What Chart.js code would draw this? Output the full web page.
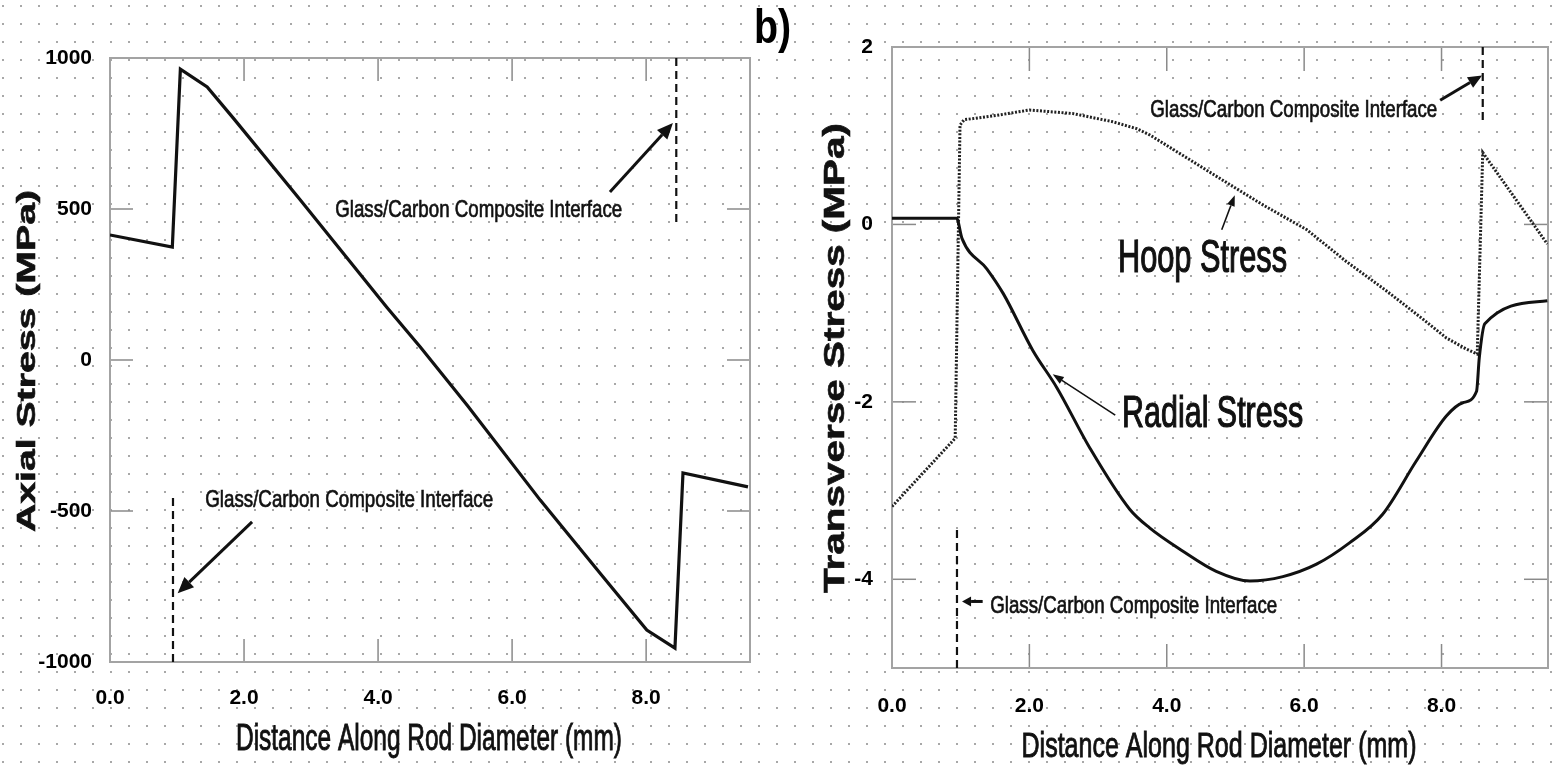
<!DOCTYPE html>
<html><head><meta charset="utf-8">
<script src="https://cdn.jsdelivr.net/npm/chart.js@4.4.0/dist/chart.umd.min.js"></script>
<style>
html,body{margin:0;padding:0;width:1552px;height:771px;overflow:hidden;background-color:#fff;}
body{background-image:radial-gradient(circle, #a8a8a8 1px, rgba(255,255,255,0) 1.5px);background-size:18px 18px;background-position:-6px -3px;}
#c1{position:absolute;left:0;top:0;}
#c2{position:absolute;left:776px;top:0;}
#lab{position:absolute;left:754px;top:3px;font:bold 48px "Liberation Sans",Arial,sans-serif;line-height:48px;transform:scaleX(0.82);transform-origin:left top;color:#000;}
</style></head>
<body>
<canvas id="c1" width="776" height="771"></canvas>
<canvas id="c2" width="776" height="771"></canvas>
<div id="lab">b)</div>
<script>
// ---- data ----
const axialX = [0, 0.93, 1.05, 1.45, 1.84, 2.84, 4.13, 4.63, 5.33, 6.42, 7.31, 8.01, 8.43, 8.55, 9.52];
const axialY = [414, 374, 963, 904, 801, 530, 175, 43, -150, -464, -705, -894, -954, -374, -420];

const radialX = [0, 0.94, 1.02, 1.38, 1.62, 2.05, 2.40, 2.88, 3.46, 3.75, 4.23, 4.72, 5.21, 5.69, 6.18, 6.66, 7.14, 7.63, 8.07, 8.31, 8.51, 8.55, 8.63, 9.54];
const radialY = [0.07, 0.07, -0.16, -0.50, -0.78, -1.42, -1.84, -2.52, -3.21, -3.42, -3.68, -3.91, -4.02, -3.97, -3.83, -3.59, -3.27, -2.67, -2.16, -2.01, -1.88, -1.50, -1.12, -0.86];

const hoopX = [0, 0.92, 0.99, 1.05, 1.53, 2.0, 2.63, 3.2, 3.56, 3.75, 4.23, 4.77, 5.4, 6.04, 6.6, 7.2, 7.7, 8.07, 8.35, 8.52, 8.6, 9.54];
const hoopY = [-3.18, -2.41, 1.12, 1.18, 1.23, 1.29, 1.25, 1.16, 1.08, 1.01, 0.78, 0.52, 0.22, -0.06, -0.41, -0.75, -1.05, -1.28, -1.40, -1.46, 0.81, -0.22];

const leftXTicks = [0, 2, 4, 6, 8];
const leftYTicks = [-1000, -500, 0, 500, 1000];
const rightXTicks = [0, 2, 4, 6, 8];
const rightYTicks = [-4, -2, 0, 2];

const interfaceLabel = 'Glass/Carbon Composite Interface';

// ---- helpers ----
const FONT = '"Liberation Sans", Arial, sans-serif';
const TICKFONT = '"Liberation Sans Narrow", "Liberation Sans", Arial, sans-serif';
const pts = (xs, ys) => xs.map((x, i) => ({x: x, y: ys[i]}));

function fitText(ctx, text, cx, cy, size, weight, width, rot, stroke) {
  ctx.save();
  ctx.font = weight + ' ' + size + 'px ' + FONT;
  const w = ctx.measureText(text).width;
  ctx.translate(cx, cy);
  if (rot) ctx.rotate(rot);
  ctx.scale(width / w, 1);
  ctx.textAlign = 'center';
  ctx.textBaseline = 'middle';
  ctx.fillStyle = '#111';
  ctx.fillText(text, 0, 0);
  if (stroke) { ctx.strokeStyle = '#111'; ctx.lineWidth = stroke; ctx.strokeText(text, 0, 0); }
  ctx.restore();
}
function arrow(ctx, x1, y1, x2, y2, lw, L, W) {
  const ang = Math.atan2(y2 - y1, x2 - x1);
  const bx = x2 - L * Math.cos(ang), by = y2 - L * Math.sin(ang);
  ctx.save();
  ctx.strokeStyle = '#111'; ctx.fillStyle = '#111'; ctx.lineWidth = lw;
  ctx.beginPath(); ctx.moveTo(x1, y1); ctx.lineTo(bx, by); ctx.stroke();
  ctx.beginPath(); ctx.moveTo(x2, y2);
  ctx.lineTo(bx + W * Math.sin(ang), by - W * Math.cos(ang));
  ctx.lineTo(bx - W * Math.sin(ang), by + W * Math.cos(ang));
  ctx.closePath(); ctx.fill();
  ctx.restore();
}

function makeDeco(cfg) {
  return {
    id: 'deco',
    beforeDatasetsDraw(chart) {
      const ctx = chart.ctx, a = chart.chartArea, xs = chart.scales.x, ys = chart.scales.y;
      ctx.save();
      ctx.strokeStyle = '#8a8a8a'; ctx.lineWidth = 1.5;
      const ln = (x1, y1, x2, y2) => { ctx.beginPath(); ctx.moveTo(x1, y1); ctx.lineTo(x2, y2); ctx.stroke(); };
      cfg.xMarks.forEach(v => { const p = xs.getPixelForValue(v); ln(p, a.top, p, a.top + cfg.len); ln(p, a.bottom, p, a.bottom - cfg.len); });
      cfg.yMarks.forEach(v => { const p = ys.getPixelForValue(v); ln(a.left, p, a.left + cfg.len, p); ln(a.right, p, a.right - cfg.len, p); });
      ctx.strokeStyle = '#a3a3a3'; ctx.lineWidth = 2;
      ctx.strokeRect(a.left, a.top, a.right - a.left, a.bottom - a.top);
      ctx.restore();
    },
    afterDraw(chart) {
      const ctx = chart.ctx, xs = chart.scales.x, ys = chart.scales.y;
      const X = v => xs.getPixelForValue(v), Y = v => ys.getPixelForValue(v);
      cfg.titles.forEach(t => fitText(ctx, t.text, t.cx, t.cy, t.size, t.weight, t.w, t.rot, t.stroke));
      cfg.notes.forEach(n => fitText(ctx, n.text, X(n.x) + n.w / 2, Y(n.y), n.size, 'normal', n.w, 0, n.stroke));
      cfg.arrows.forEach(r => arrow(ctx, X(r.x1), Y(r.y1), X(r.x2), Y(r.y2), r.lw, r.L, r.W));
    }
  };
}

function makeChart(id, cfg, datasets) {
  return new Chart(document.getElementById(id), {
    type: 'line',
    data: { datasets: datasets },
    plugins: [makeDeco(cfg)],
    options: {
      responsive: false, animation: false,
      layout: { padding: { top: cfg.top, right: cfg.right, left: 0, bottom: 0 } },
      plugins: { legend: { display: false }, tooltip: { enabled: false } },
      elements: { point: { radius: 0 }, line: { tension: 0 } },
      scales: {
        x: {
          type: 'linear', min: 0, max: 9.55,
          grid: { display: false, drawTicks: false }, border: { display: false },
          ticks: { padding: cfg.xPad, color: '#000', font: { family: TICKFONT, size: 21, weight: 'bold' }, maxRotation: 0, autoSkip: false,
                   callback: v => Number(v).toFixed(1) },
          afterBuildTicks: s => { s.ticks = cfg.xTicks.map(v => ({ value: v })); },
          afterFit: s => { s.height = cfg.xH; }
        },
        y: {
          type: 'linear', min: cfg.yMin, max: cfg.yMax,
          grid: { display: false, drawTicks: false }, border: { display: false },
          ticks: { padding: cfg.yPad, color: '#000', font: { family: TICKFONT, size: 21, weight: 'bold' }, autoSkip: false,
                   callback: v => String(v) },
          afterBuildTicks: s => { s.ticks = cfg.yTicks.map(v => ({ value: v })); },
          afterFit: s => { s.width = cfg.yW; }
        }
      }
    }
  });
}

const solid = (data, w) => ({ data: data, borderColor: '#111', borderWidth: w, fill: false, pointRadius: 0 });
const dashed = (data) => ({ data: data, borderColor: '#111', borderWidth: 2.2, borderDash: [8, 5], fill: false, pointRadius: 0 });

// ---- left chart: axial stress ----
makeChart('c1', {
  top: 58, right: 26, xH: 109, yW: 110, xPad: 24, yPad: 18,
  yMin: -1000, yMax: 1000, xTicks: leftXTicks, yTicks: leftYTicks,
  len: 23, xMarks: [2, 4, 6, 8], yMarks: [500, 0, -500],
  titles: [
    { text: 'Axial Stress (MPa)', cx: 28, cy: 361, size: 26, weight: 'bold', w: 342, rot: -Math.PI / 2, stroke: 0.6 },
    { text: 'Distance Along Rod Diameter (mm)', cx: 429, cy: 740, size: 36, weight: 'normal', w: 386, rot: 0, stroke: 0.9 }
  ],
  notes: [
    { text: interfaceLabel, x: 1.42, y: -464, w: 288, size: 24, stroke: 0.7 },
    { text: interfaceLabel, x: 3.36, y: 497, w: 287, size: 24, stroke: 0.7 }
  ],
  arrows: [
    { x1: 2.12, y1: -536, x2: 1.01, y2: -772, lw: 3, L: 16, W: 7 },
    { x1: 7.46, y1: 556, x2: 8.40, y2: 785, lw: 3, L: 16, W: 7 }
  ]
}, [
  solid(pts(axialX, axialY), 3.2),
  dashed([{ x: 0.94, y: -1000 }, { x: 0.94, y: -447 }]),
  dashed([{ x: 8.45, y: 1000 }, { x: 8.45, y: 457 }])
]);

// ---- right chart: transverse stress ----
makeChart('c2', {
  top: 47, right: 4, xH: 103, yW: 116, xPad: 26, yPad: 19,
  yMin: -5, yMax: 2, xTicks: rightXTicks, yTicks: rightYTicks,
  len: 24, xMarks: [2, 4, 6, 8], yMarks: [0, -2, -4],
  titles: [
    { text: 'Transverse Stress (MPa)', cx: 60, cy: 358, size: 30, weight: 'bold', w: 470, rot: -Math.PI / 2, stroke: 0.6 },
    { text: 'Distance Along Rod Diameter (mm)', cx: 443, cy: 747, size: 35, weight: 'normal', w: 395, rot: 0, stroke: 0.9 }
  ],
  notes: [
    { text: interfaceLabel, x: 3.76, y: 1.29, w: 287, size: 24, stroke: 0.7 },
    { text: interfaceLabel, x: 1.43, y: -4.30, w: 287, size: 24, stroke: 0.7 },
    { text: 'Hoop Stress', x: 3.29, y: -0.39, w: 169, size: 46, stroke: 1.2 },
    { text: 'Radial Stress', x: 3.35, y: -2.15, w: 181, size: 44, stroke: 1.2 }
  ],
  arrows: [
    { x1: 7.98, y1: 1.40, x2: 8.59, y2: 1.68, lw: 3, L: 14, W: 6 },
    { x1: 1.32, y1: -4.25, x2: 1.02, y2: -4.25, lw: 3, L: 9, W: 5 },
    { x1: 4.80, y1: -0.06, x2: 4.99, y2: 0.33, lw: 1.6, L: 11, W: 4 },
    { x1: 3.25, y1: -2.15, x2: 2.34, y2: -1.69, lw: 1.6, L: 11, W: 4 }
  ]
}, [
  Object.assign(solid(pts(radialX, radialY), 3), { cubicInterpolationMode: 'monotone' }),
  Object.assign(solid(pts(hoopX, hoopY), 3), { borderDash: [2, 1.6], borderColor: '#222' }),
  dashed([{ x: 0.946, y: -5 }, { x: 0.946, y: -3.41 }]),
  dashed([{ x: 8.6, y: 2 }, { x: 8.6, y: 1.14 }])
]);
</script>
</body></html>
